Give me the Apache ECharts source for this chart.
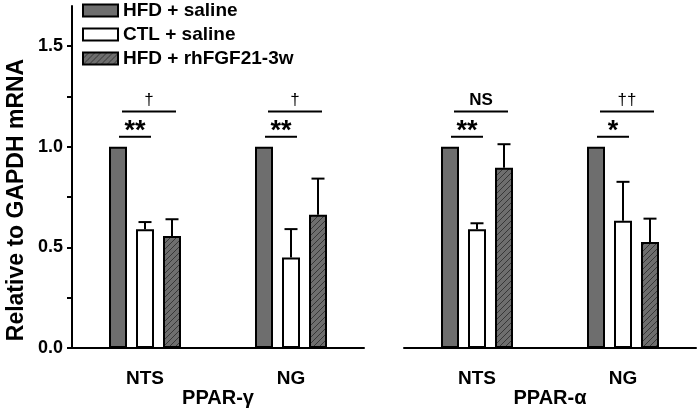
<!DOCTYPE html>
<html>
<head>
<meta charset="utf-8">
<script src="https://cdn.jsdelivr.net/npm/echarts@6/dist/echarts.min.js"></script>
<style>html,body{margin:0;padding:0;background:#fff}#c{width:697px;height:410px}</style>
</head>
<body>
<div id="c"></div>
<script>
// ---- data ----
const categories = ['NTS', 'NG'];
const panelNames = ['PPAR-γ', 'PPAR-α'];
const seriesNames = ['HFD + saline', 'CTL + saline', 'HFD + rhFGF21-3w'];
const gammaHFD = [1.0, 1.0];
const gammaCTL = [0.59, 0.45];
const gammaCTLErr = [0.036, 0.141];
const gammaRh = [0.557, 0.662];
const gammaRhErr = [0.083, 0.18];
const alphaHFD = [1.0, 1.0];
const alphaCTL = [0.59, 0.633];
const alphaCTLErr = [0.03, 0.193];
const alphaRh = [0.896, 0.527];
const alphaRhErr = [0.117, 0.116];
const yLabelTicks = [0, 0.5, 1.0, 1.5];
const yTickMarks = [0, 0.25, 0.5, 0.75, 1.0, 1.25, 1.5];
const sigLower = [['**', '**'], ['**', '*']];
const sigUpper = [['†', '†'], ['NS', '††']];
const sigLowerLevel = 1.05;
const sigUpperLevel = 1.175;

// ---- styles ----
const FONT = 'Liberation Sans, Arial, sans-serif';
const DARK = '#6e6e6e';
const BAR_W = 18;
const BAR_STEP = 27;

function hatch() {
  const s = 6;
  const cv = document.createElement('canvas');
  cv.width = s; cv.height = s;
  const ctx = cv.getContext('2d');
  ctx.fillStyle = DARK;
  ctx.fillRect(0, 0, s, s);
  ctx.strokeStyle = '#2a2a2a';
  ctx.lineWidth = 0.8;
  ctx.beginPath();
  ctx.moveTo(0, s); ctx.lineTo(s, 0);
  ctx.moveTo(-s, s); ctx.lineTo(s, -s);
  ctx.moveTo(0, 2 * s); ctx.lineTo(2 * s, 0);
  ctx.stroke();
  return cv;
}
const hatchPattern = { image: hatch(), repeat: 'repeat' };
const fills = [DARK, '#ffffff', hatchPattern];

const panels = [
  { vals: [gammaHFD, gammaCTL, gammaRh], errs: [null, gammaCTLErr, gammaRhErr] },
  { vals: [alphaHFD, alphaCTL, alphaRh], errs: [null, alphaCTLErr, alphaRhErr] }
];

const chart = echarts.init(document.getElementById('c'), null, { renderer: 'canvas' });

const grids = [
  { left: 72, top: 6, width: 292, bottom: 62, outerBoundsMode: 'none', containLabel: false },
  { left: 404, top: 6, width: 292, bottom: 62, outerBoundsMode: 'none', containLabel: false }
];

const xAxes = panelNames.map((nm, i) => ({
  type: 'category', gridIndex: i, data: categories,
  name: nm, nameLocation: 'middle', nameGap: 40, nameMoveOverlap: false,
  nameTextStyle: { fontFamily: FONT, fontWeight: 'bold', fontSize: 20, color: '#000' },
  axisLine: { lineStyle: { color: '#000', width: 2 } },
  axisTick: { alignWithLabel: true, length: 5, lineStyle: { color: '#000', width: 2 } },
  axisLabel: { margin: 21, fontFamily: FONT, fontWeight: 'bold', fontSize: 19, color: '#000' }
}));

const yAxes = [0, 1].map(i => ({
  type: 'value', gridIndex: i, min: 0, max: 1.7,
  show: i === 0,
  name: i === 0 ? 'Relative to GAPDH mRNA' : '',
  nameLocation: 'middle', nameGap: 44, nameRotate: 90, nameMoveOverlap: false,
  nameTextStyle: { fontFamily: FONT, fontWeight: 'bold', fontSize: 23, color: '#000', padding: [0, 46, 0, 0] },
  splitLine: { show: false },
  axisLine: { show: i === 0, lineStyle: { color: '#000', width: 2 } },
  axisTick: { show: i === 0, length: 5, customValues: yTickMarks, lineStyle: { color: '#000', width: 2 } },
  axisLabel: {
    show: i === 0, margin: 9, customValues: yLabelTicks,
    formatter: v => Number(v).toFixed(1),
    fontFamily: FONT, fontWeight: 'bold', fontSize: 18, color: '#000'
  }
}));

const series = [];
panels.forEach((p, g) => {
  p.vals.forEach((arr, k) => {
    series.push({
      type: 'bar', name: seriesNames[k], xAxisIndex: g, yAxisIndex: g,
      data: arr, barWidth: BAR_W, barGap: '50%',
      itemStyle: { color: fills[k], borderColor: '#000', borderWidth: 2 },
      emphasis: { disabled: true }, z: 2
    });
  });
  const errData = [];
  p.errs.forEach((e, k) => {
    if (!e) return;
    e.forEach((ev, c) => errData.push([c, p.vals[k][c], ev, k]));
  });
  series.push({
    type: 'custom', xAxisIndex: g, yAxisIndex: g, data: errData, z: 3,
    silent: true,
    renderItem: (params, api) => {
      const base = api.coord([api.value(0), api.value(1)]);
      const top = api.coord([api.value(0), api.value(1) + api.value(2)]);
      const x = base[0] + (api.value(3) - 1) * BAR_STEP;
      const st = { stroke: '#000', lineWidth: 2 };
      return {
        type: 'group', children: [
          { type: 'line', shape: { x1: x, y1: base[1], x2: x, y2: top[1] }, style: st },
          { type: 'line', shape: { x1: x - 6.5, y1: top[1], x2: x + 6.5, y2: top[1] }, style: st }
        ]
      };
    }
  });
});

chart.setOption({
  animation: false,
  backgroundColor: '#fff',
  grid: grids,
  xAxis: xAxes,
  yAxis: yAxes,
  legend: {
    orient: 'vertical', left: 82, top: 1, padding: 0, itemWidth: 35, itemHeight: 12, itemGap: 5,
    icon: 'rect', data: seriesNames,
    textStyle: { fontFamily: FONT, fontWeight: 'bold', fontSize: 19, lineHeight: 19, color: '#000' },
    selectedMode: false
  },
  series: series
});

// significance annotations
const graphics = [];
[0, 1].forEach(g => {
  categories.forEach((cat, c) => {
    const center = chart.convertToPixel({ gridIndex: g }, [c, sigLowerLevel]);
    const up = chart.convertToPixel({ gridIndex: g }, [c, sigUpperLevel]);
    const b0 = center[0] - BAR_STEP, b1 = center[0], b2 = center[0] + BAR_STEP;
    const st = { stroke: '#000', lineWidth: 2 };
    graphics.push({ type: 'line', shape: { x1: b0 + 1, y1: center[1], x2: b1 + 6, y2: center[1] }, style: st });
    graphics.push({ type: 'line', shape: { x1: b0 + 4, y1: up[1], x2: b2 + 4, y2: up[1] }, style: st });
    graphics.push({
      type: 'text', x: (b0 + b1 + 7) / 2, y: center[1] + 8,
      style: { text: sigLower[g][c], font: 'bold 27px ' + FONT, fill: '#000', align: 'center', verticalAlign: 'bottom' }
    });
    const up2 = sigUpper[g][c];
    graphics.push({
      type: 'text', x: (b0 + b2 + 8) / 2, y: up[1] - 3,
      style: { text: up2, font: (up2 === 'NS' ? 'bold 17px ' : '17px ') + FONT, fill: '#000', align: 'center', verticalAlign: 'bottom' }
    });
  });
});
chart.setOption({ graphic: graphics });
</script>
</body>
</html>
